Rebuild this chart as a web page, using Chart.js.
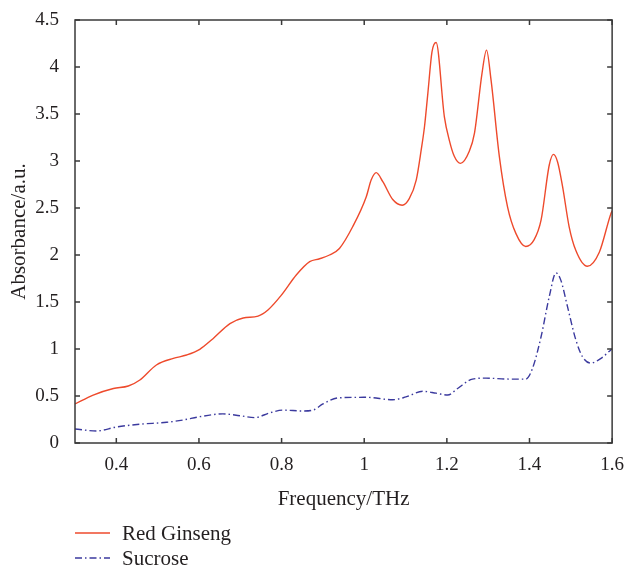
<!DOCTYPE html>
<html>
<head>
<meta charset="utf-8">
<script src="https://cdn.jsdelivr.net/npm/chart.js@4"></script>
<style>
  html, body { margin: 0; padding: 0; background: #fff; }
  #wrap { width: 627px; height: 565px; }
</style>
</head>
<body>
<div id="wrap"><canvas id="absChart"></canvas></div>
<script>
// values
const seriesNames = ['Red Ginseng', 'Sucrose']

const freqRed = [0.30, 0.344, 0.393, 0.429, 0.457, 0.497, 0.538, 0.57, 0.602, 0.634, 0.675, 0.707, 0.743, 0.767, 0.799, 0.836, 0.868, 0.892, 0.916, 0.94, 0.972, 1.005, 1.017, 1.029, 1.045, 1.069, 1.092, 1.109, 1.126, 1.138, 1.146, 1.154, 1.164, 1.174, 1.194, 1.206, 1.218, 1.233, 1.254, 1.267, 1.285, 1.296, 1.307, 1.327, 1.347, 1.367, 1.391, 1.411, 1.428, 1.448, 1.458, 1.468, 1.48, 1.496, 1.512, 1.54, 1.569, 1.597, 1.60]
const absRed = [0.415, 0.51, 0.58, 0.606, 0.67, 0.83, 0.90, 0.936, 0.997, 1.11, 1.27, 1.33, 1.35, 1.415, 1.57, 1.79, 1.93, 1.96, 2.0, 2.07, 2.30, 2.62, 2.80, 2.876, 2.78, 2.59, 2.53, 2.60, 2.80, 3.12, 3.37, 3.72, 4.16, 4.26, 3.47, 3.22, 3.05, 2.975, 3.10, 3.30, 3.93, 4.18, 3.86, 3.05, 2.51, 2.23, 2.09, 2.16, 2.37, 2.96, 3.07, 2.99, 2.73, 2.30, 2.05, 1.88, 2.03, 2.44, 2.47]

const freqSuc = [0.30, 0.352, 0.40, 0.457, 0.522, 0.562, 0.602, 0.658, 0.699, 0.735, 0.771, 0.803, 0.852, 0.876, 0.90, 0.936, 1.005, 1.069, 1.101, 1.142, 1.174, 1.202, 1.226, 1.262, 1.295, 1.351, 1.391, 1.407, 1.428, 1.448, 1.464, 1.476, 1.492, 1.512, 1.528, 1.548, 1.573, 1.597, 1.60]
const absSuc = [0.149, 0.128, 0.17, 0.20, 0.22, 0.245, 0.28, 0.31, 0.29, 0.27, 0.32, 0.35, 0.34, 0.35, 0.415, 0.48, 0.486, 0.46, 0.49, 0.55, 0.53, 0.51, 0.58, 0.68, 0.69, 0.68, 0.68, 0.79, 1.13, 1.56, 1.81, 1.73, 1.45, 1.10, 0.92, 0.85, 0.90, 0.99, 1.0]

const xTicks = [0.4, 0.6, 0.8, 1.0, 1.2, 1.4, 1.6]
const yTicks = [0, 0.5, 1, 1.5, 2, 2.5, 3, 3.5, 4, 4.5]

const axisColor = '#3a3a3a'
const textColor = '#231f20'
const serif = "'Liberation Serif', 'Times New Roman', serif"

const toPoints = (xs, ys) => xs.map((x, i) => ({ x: x, y: ys[i] }))

// inward ticks on all four sides plus the closed frame
const frameTicks = {
    id: 'frameTicks',
    afterDatasetsDraw(chart) {
        const { ctx, chartArea: a, scales } = chart
        const len = 5
        ctx.save()
        ctx.strokeStyle = axisColor
        ctx.lineWidth = 1.5
        ctx.strokeRect(a.left, a.top, a.right - a.left, a.bottom - a.top)
        ctx.beginPath()
        xTicks.forEach(v => {
            const px = scales.x.getPixelForValue(v)
            ctx.moveTo(px, a.bottom); ctx.lineTo(px, a.bottom - len)
            ctx.moveTo(px, a.top); ctx.lineTo(px, a.top + len)
        })
        yTicks.forEach(v => {
            const py = scales.y.getPixelForValue(v)
            ctx.moveTo(a.left, py); ctx.lineTo(a.left + len, py)
            ctx.moveTo(a.right, py); ctx.lineTo(a.right - len, py)
        })
        ctx.stroke()
        ctx.restore()
    }
}

// legend stacked in rows under the axis title
const rowLegend = {
    id: 'rowLegend',
    afterDraw(chart) {
        const { ctx, chartArea: a } = chart
        ctx.save()
        ctx.font = '21px ' + serif
        ctx.textBaseline = 'middle'
        chart.data.datasets.forEach((ds, i) => {
            const y = 533 + i * 25
            ctx.strokeStyle = ds.borderColor
            ctx.lineWidth = 1.5
            ctx.setLineDash(ds.borderDash || [])
            ctx.beginPath()
            ctx.moveTo(a.left, y); ctx.lineTo(a.left + 35, y)
            ctx.stroke()
            ctx.setLineDash([])
            ctx.fillStyle = textColor
            ctx.fillText(ds.label, a.left + 47, y + 1)
        })
        ctx.restore()
    }
}

var ctx = document.getElementById('absChart')
var myChart = new Chart(ctx, {
    type: 'line',
    data: {
        datasets: [{
            label: seriesNames[0],
            data: toPoints(freqRed, absRed),
            borderColor: '#ee4a2c',
            borderWidth: 1.4,
            pointRadius: 0,
            cubicInterpolationMode: 'monotone'
        }, {
            label: seriesNames[1],
            data: toPoints(freqSuc, absSuc),
            borderColor: '#3b3a9e',
            borderWidth: 1.4,
            borderDash: [7, 3, 1.5, 3],
            pointRadius: 0,
            cubicInterpolationMode: 'monotone'
        }]
    },
    options: {
        responsive: true,
        maintainAspectRatio: false,
        animation: false,
        layout: { padding: { top: 20, right: 4, bottom: 53, left: 0 } },
        plugins: {
            legend: { display: false },
            tooltip: { enabled: false }
        },
        scales: {
            x: {
                type: 'linear',
                min: 0.3,
                max: 1.6,
                afterBuildTicks: s => { s.ticks = xTicks.map(v => ({ value: v })) },
                afterFit: s => { s.height = 69 },
                grid: { display: false },
                border: { display: false },
                ticks: {
                    padding: 3,
                    color: textColor,
                    font: { family: serif, size: 19 },
                    maxRotation: 0,
                    callback: v => String(Math.round(v * 10) / 10)
                },
                title: {
                    display: true,
                    text: 'Frequency/THz',
                    color: textColor,
                    font: { family: serif, size: 21 },
                    padding: { top: 0, bottom: 0 }
                }
            },
            y: {
                min: 0,
                max: 4.5,
                afterBuildTicks: s => { s.ticks = yTicks.map(v => ({ value: v })) },
                afterFit: s => { s.width = 75 },
                grid: { display: false },
                border: { display: false },
                ticks: {
                    padding: 8,
                    color: textColor,
                    font: { family: serif, size: 19 },
                    callback: v => String(v)
                },
                title: {
                    display: true,
                    text: 'Absorbance/a.u.',
                    color: textColor,
                    font: { family: serif, size: 21 },
                    padding: { top: 7, bottom: 0 }
                }
            }
        }
    },
    plugins: [frameTicks, rowLegend]
})
</script>
</body>
</html>
